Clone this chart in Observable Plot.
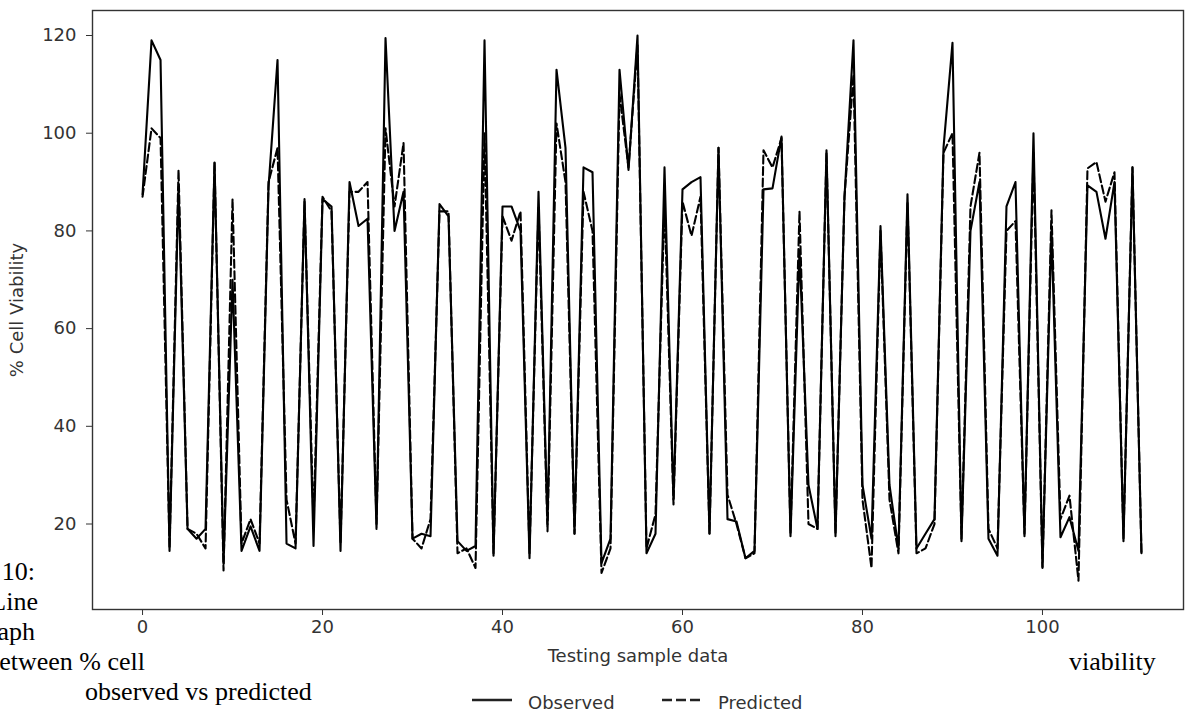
<!DOCTYPE html>
<html>
<head>
<meta charset="utf-8">
<script src="https://cdn.jsdelivr.net/npm/d3@7"></script>
<script src="https://cdn.jsdelivr.net/npm/@observablehq/plot@0.6"></script>
<style>
  html, body { margin: 0; padding: 0; background: white; overflow: hidden; }
  #wrap { position: relative; width: 1185px; height: 712px; overflow: hidden; background: white; }
  #chart { position: absolute; left: 0; top: 0; }
  .cap { position: absolute; font-family: "Liberation Serif", "Times New Roman", serif; font-size: 26px; line-height: 30px; color: #000; white-space: nowrap; }
  .leg { position: absolute; font-family: "DejaVu Sans", sans-serif; font-size: 18px; line-height: 22px; color: #333; white-space: nowrap; }
</style>
</head>
<body>
<div id="wrap">
  <div id="chart"></div>
  <div id="legend" style="position:absolute;left:0;top:672px;width:1185px;height:40px;"></div>
  <div class="cap" style="right:1150px;top:557px;">Figure 10:</div>
  <div class="cap" style="right:1147px;top:587px;">Line</div>
  <div class="cap" style="right:1150px;top:617px;">graph</div>
  <div class="cap" style="right:1040px;top:647px;">between % cell</div>
  <div class="cap" style="left:85px;top:677px;">observed vs predicted</div>
  <div class="cap" style="left:1069px;top:647px;">viability</div>
</div>
<script>
const observed = [
  87.5, 119, 115, 14.5, 89, 19, 17, 19, 94, 12,
  70, 14.5, 19.5, 14.5, 89, 115, 16, 15, 86.5, 15.5,
  86.5, 85, 14.5, 90, 81, 82.5, 19, 119.5, 80, 88,
  17, 18, 17.5, 85.5, 83, 16.5, 14.5, 15.5, 119, 13.5,
  85, 85, 80, 13, 88, 20, 113, 97, 18, 93,
  92, 12, 17, 113, 92.5, 120, 14, 18, 93, 25,
  88.5, 90, 91, 18, 97, 21, 20.5, 13, 14.5, 88.5,
  88.7, 99.3, 17.5, 76, 28, 19, 96.5, 17.5, 87, 119,
  28, 17, 81, 28, 15, 87.5, 15, 18, 21, 97,
  118.5, 16.5, 80, 90, 17, 13.5, 85, 90, 17.5, 100,
  11.2, 80, 17.3, 21.4, 14.5, 89.3, 88, 78.4, 90, 16.5,
  93, 14
];
const predicted = [
  87, 101, 99, 15, 92.5, 19, 18, 15, 94, 10.5,
  86.5, 16, 21, 16, 90, 97, 25, 16, 86, 20,
  87, 84, 16, 88, 88, 90, 20, 101, 85, 98,
  17, 15, 21, 84, 84, 14, 15, 11, 100, 14,
  83, 78, 84, 14, 85, 18.5, 102, 90, 18, 88,
  80, 10, 15, 108, 93, 118, 15, 22, 86, 24,
  86, 79, 87, 18, 97, 26, 20, 13, 14, 96.5,
  93, 99, 18, 84, 20, 19, 96, 18, 87, 112,
  25, 11, 80, 25, 14, 86, 14, 15, 20, 96,
  100, 17, 85, 96, 19, 15, 80, 82, 18, 96,
  11, 84.2, 21, 25.8, 8.4, 92.8, 94.1, 86, 92, 17,
  93, 14
];
const xTicks = [0, 20, 40, 60, 80, 100];
const yTicks = [20, 40, 60, 80, 100, 120];
const seriesNames = ["Observed", "Predicted"];

const obsData = observed.map((v, i) => ({sample: i, value: v}));
const predData = predicted.map((v, i) => ({sample: i, value: v}));

const chart = Plot.plot({
  width: 1185,
  height: 672,
  marginLeft: 92,
  marginRight: 2,
  marginTop: 10,
  marginBottom: 63,
  style: {fontFamily: "DejaVu Sans, sans-serif", fontSize: "18px", color: "#333", background: "white"},
  x: {domain: [-5.56, 115.67]},
  y: {domain: [2.5, 125.12]},
  marks: [
    Plot.axisX({ticks: xTicks, tickSize: 6, tickPadding: 5, label: "Testing sample data", labelAnchor: "center", labelArrow: "none", labelOffset: 52}),
    Plot.axisY({ticks: yTicks, tickSize: 6, tickPadding: 10, label: "% Cell Viability", labelAnchor: "center", labelArrow: "none", labelOffset: 82}),
    Plot.lineY(predData, {x: "sample", y: "value", stroke: "black", strokeWidth: 2.1, strokeDasharray: "8,3.5"}),
    Plot.lineY(obsData, {x: "sample", y: "value", stroke: "black", strokeWidth: 2.1}),
    Plot.frame({stroke: "#333", strokeWidth: 1.4})
  ]
});
document.getElementById("chart").appendChild(chart);

// legend below the chart
const legend = document.getElementById("legend");
const legendItems = [
  {name: seriesNames[0], dash: null, lineLeft: 472, textLeft: 528},
  {name: seriesNames[1], dash: "10,4", lineLeft: 662, textLeft: 718}
];
for (const item of legendItems) {
  const svg = d3.create("svg").attr("width", 40).attr("height", 10)
    .style("position", "absolute").style("left", item.lineLeft + "px").style("top", "23px");
  const line = svg.append("line").attr("x1", 0).attr("x2", 40).attr("y1", 5).attr("y2", 5)
    .attr("stroke", "#222").attr("stroke-width", 2.3);
  if (item.dash) line.attr("stroke-dasharray", item.dash);
  legend.appendChild(svg.node());
  const span = document.createElement("div");
  span.className = "leg";
  span.style.left = item.textLeft + "px";
  span.style.top = "20px";
  span.textContent = item.name;
  legend.appendChild(span);
}
</script>
</body>
</html>
